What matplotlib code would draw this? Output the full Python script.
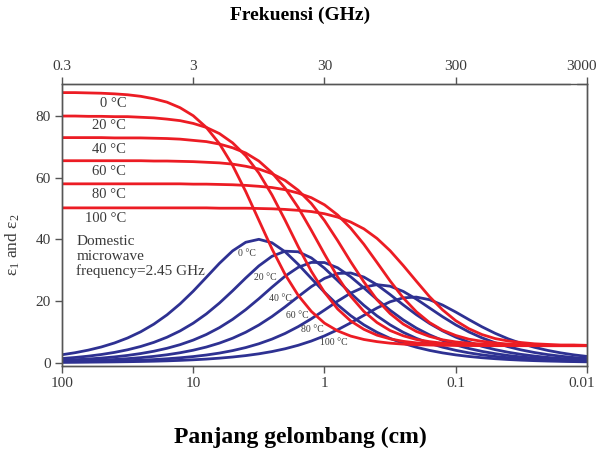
import matplotlib.pyplot as plt
from matplotlib.ticker import FixedLocator, FixedFormatter, NullLocator
from matplotlib.transforms import ScaledTranslation

# wavelength samples (cm), 10 per decade
wavelength_cm = [100, 79.43, 63.10, 50.12, 39.81, 31.62, 25.12, 19.95, 15.85, 12.59,
                 10, 7.943, 6.310, 5.012, 3.981, 3.162, 2.512, 1.995, 1.585, 1.259,
                 1, 0.7943, 0.6310, 0.5012, 0.3981, 0.3162, 0.2512, 0.1995, 0.1585, 0.1259,
                 0.1, 0.07943, 0.06310, 0.05012, 0.03981, 0.03162, 0.02512, 0.01995, 0.01585, 0.01259,
                 0.01]

temps = ['0 °C', '20 °C', '40 °C', '60 °C', '80 °C', '100 °C']

# real part eps1 (red)
eps1 = [
    [87.6, 87.6, 87.5, 87.4, 87.2, 86.9, 86.4, 85.6, 84.5, 82.7, 80.1,
     76.3, 71.0, 64.0, 55.5, 46.2, 36.9, 28.6, 21.8, 16.6, 12.8,
     10.3, 8.6, 7.5, 6.8, 6.3, 6.0, 5.8, 5.7, 5.6, 5.6,
     5.6, 5.5, 5.5, 5.5, 5.5, 5.5, 5.5, 5.5, 5.5, 5.5],
    [80.0, 80.0, 79.9, 79.9, 79.8, 79.8, 79.6, 79.4, 79.0, 78.5, 77.6,
     76.3, 74.3, 71.3, 67.1, 61.5, 54.4, 46.2, 37.6, 29.6, 22.8,
     17.4, 13.5, 10.8, 8.9, 7.7, 6.9, 6.4, 6.1, 5.9, 5.7,
     5.6, 5.6, 5.6, 5.5, 5.5, 5.5, 5.5, 5.5, 5.5, 5.5],
    [73.0, 73.0, 73.0, 73.0, 72.9, 72.9, 72.9, 72.8, 72.7, 72.5, 72.1,
     71.7, 70.9, 69.7, 68.0, 65.4, 61.6, 56.6, 50.3, 42.9, 35.2,
     27.8, 21.5, 16.6, 13.0, 10.4, 8.7, 7.5, 6.8, 6.3, 6.0,
     5.8, 5.7, 5.6, 5.6, 5.6, 5.5, 5.5, 5.5, 5.5, 5.5],
    [65.5, 65.5, 65.5, 65.5, 65.5, 65.5, 65.5, 65.4, 65.4, 65.3, 65.2,
     65.0, 64.8, 64.4, 63.7, 62.8, 61.3, 59.1, 55.9, 51.6, 46.1,
     39.6, 32.7, 26.2, 20.4, 15.9, 12.5, 10.1, 8.5, 7.4, 6.7,
     6.3, 6.0, 5.8, 5.7, 5.6, 5.6, 5.5, 5.5, 5.5, 5.5],
    [58.0, 58.0, 58.0, 58.0, 58.0, 58.0, 58.0, 58.0, 58.0, 58.0, 57.9,
     57.9, 57.8, 57.7, 57.5, 57.2, 56.8, 56.1, 55.0, 53.5, 51.2,
     47.9, 43.6, 38.4, 32.5, 26.5, 21.0, 16.5, 13.0, 10.5, 8.8,
     7.6, 6.9, 6.4, 6.0, 5.8, 5.7, 5.6, 5.6, 5.6, 5.5],
    [50.2, 50.2, 50.2, 50.2, 50.2, 50.2, 50.2, 50.2, 50.2, 50.2, 50.2,
     50.2, 50.1, 50.1, 50.1, 50.0, 49.9, 49.7, 49.4, 49.0, 48.3,
     47.2, 45.6, 43.4, 40.3, 36.3, 31.5, 26.4, 21.4, 17.1, 13.6,
     11.0, 9.1, 7.8, 7.0, 6.5, 6.1, 5.9, 5.7, 5.7, 5.6],
]

# imaginary part eps2 (blue)
eps2 = [
    [2.55, 3.21, 4.04, 5.07, 6.37, 7.99, 10.00, 12.48, 15.48, 19.06, 23.17,
     27.68, 32.22, 36.25, 39.04, 40.00, 38.88, 35.96, 31.87, 27.31, 22.83,
     18.75, 15.22, 12.26, 9.83, 7.85, 6.26, 4.98, 3.96, 3.15, 2.50,
     1.99, 1.58, 1.26, 1.00, 0.79, 0.63, 0.50, 0.40, 0.32, 0.25],
    [1.32, 1.66, 2.09, 2.63, 3.31, 4.16, 5.23, 6.57, 8.23, 10.28, 12.79,
     15.80, 19.33, 23.29, 27.45, 31.38, 34.49, 36.15, 35.96, 33.97, 30.64,
     26.62, 22.47, 18.59, 15.16, 12.25, 9.83, 7.87, 6.28, 5.00, 3.98,
     3.16, 2.51, 2.00, 1.59, 1.26, 1.00, 0.80, 0.63, 0.50, 0.40],
    [0.74, 0.93, 1.17, 1.47, 1.85, 2.33, 2.94, 3.69, 4.64, 5.82, 7.30,
     9.12, 11.35, 14.03, 17.18, 20.72, 24.47, 28.04, 30.91, 32.51, 32.46,
     30.77, 27.84, 24.24, 20.50, 16.98, 13.86, 11.20, 9.00, 7.20, 5.74,
     4.58, 3.64, 2.90, 2.30, 1.83, 1.45, 1.15, 0.92, 0.73, 0.58],
    [0.40, 0.51, 0.64, 0.81, 1.01, 1.28, 1.61, 2.02, 2.54, 3.20, 4.02,
     5.05, 6.33, 7.91, 9.85, 12.19, 14.95, 18.08, 21.41, 24.65, 27.32,
     28.92, 29.08, 27.75, 25.25, 22.08, 18.73, 15.55, 12.71, 10.29, 8.27,
     6.62, 5.28, 4.21, 3.35, 2.66, 2.12, 1.68, 1.34, 1.06, 0.84],
    [0.20, 0.25, 0.31, 0.39, 0.49, 0.62, 0.78, 0.98, 1.24, 1.56, 1.96,
     2.46, 3.09, 3.89, 4.88, 6.11, 7.62, 9.46, 11.67, 14.22, 17.04,
     19.93, 22.56, 24.48, 25.29, 24.79, 23.10, 20.60, 17.74, 14.88, 12.25,
     9.96, 8.03, 6.44, 5.15, 4.10, 3.27, 2.60, 2.07, 1.64, 1.31],
    [0.09, 0.11, 0.14, 0.18, 0.23, 0.29, 0.36, 0.45, 0.57, 0.72, 0.91,
     1.14, 1.44, 1.81, 2.27, 2.85, 3.58, 4.49, 5.62, 7.00, 8.67,
     10.65, 12.90, 15.33, 17.71, 19.73, 21.01, 21.26, 20.41, 18.67, 16.40,
     13.96, 11.61, 9.51, 7.70, 6.19, 4.96, 3.96, 3.16, 2.51, 2.00],
]

wl_ticks = [100, 10, 1, 0.1, 0.01]
wl_labels = ['100', '10', '1', '0.1', '0.01']
freq_ticks = [0.3, 3, 30, 300, 3000]
freq_labels = ['0.3', '3', '30', '300', '3000']
y_ticks = [0, 20, 40, 60, 80]

RED = '#ec1c24'
BLUE = '#2e3192'
GREY = '#3a3a3a'

plt.rcParams['font.family'] = 'Liberation Serif'
plt.rcParams['mathtext.fontset'] = 'stix'

fig = plt.figure(figsize=(6, 4.51), dpi=100)
ax = fig.add_axes([0.1033, 0.1885, 0.875, 0.6253])

for e2 in eps2:
    ax.plot(wavelength_cm, e2, color=BLUE, lw=2.0, solid_capstyle='round')
for e1 in eps1:
    ax.plot(wavelength_cm, e1, color=RED, lw=2.0, solid_capstyle='round')

ax.set_xscale('log')
ax.set_xlim(100, 0.01)
ax.set_ylim(-1.1, 90.4)
ax.xaxis.set_major_locator(FixedLocator(wl_ticks))
ax.xaxis.set_major_formatter(FixedFormatter(wl_labels))
ax.xaxis.set_minor_locator(NullLocator())
ax.set_yticks(y_ticks)

top = ax.twiny()
top.set_xscale('log')
top.set_xlim(0.3, 3000)
top.xaxis.set_major_locator(FixedLocator(freq_ticks))
top.xaxis.set_major_formatter(FixedFormatter(freq_labels))
top.xaxis.set_minor_locator(NullLocator())

for a in (ax, top):
    for s in a.spines.values():
        s.set_color('#555555')
        s.set_linewidth(1.0)
    a.tick_params(length=5, width=1.0, color='#555555', labelsize=11,
                  labelcolor=GREY, pad=3)

# nudge the last labels at the right edge inwards a little
shift = ScaledTranslation(-4 / 72, 0, fig.dpi_scale_trans)
for lab in (top.get_xticklabels()[-1], ax.get_xticklabels()[-1]):
    lab.set_transform(lab.get_transform() + shift)

# small break in the top spine near 3000
ax.plot([0.972, 0.978], [1, 1], transform=ax.transAxes, color='white',
        lw=2.5, clip_on=False, zorder=5)

ax.set_ylabel(r'$\mathregular{\varepsilon_1}$ and $\mathregular{\varepsilon_2}$',
              fontsize=12.5, color=GREY)
ax.yaxis.set_label_coords(-0.076, 0.43)

# temperature labels on the red curves
red_label_y = [84.2, 76.9, 69.3, 61.9, 54.7, 46.6]
for t, yv in zip(temps, red_label_y):
    ax.text(32.4, yv, t, ha='right', va='center', fontsize=10.5, color=GREY)

# temperature labels on the blue curves
blue_label_x = [3.89, 2.82, 2.17, 1.61, 1.24, 0.853]
blue_label_y = [35.3, 27.7, 20.7, 15.2, 10.6, 6.5]
for t, xv, yv in zip(temps, blue_label_x, blue_label_y):
    ax.text(xv, yv, t, ha='center', va='center', fontsize=7, color=GREY)

ax.text(78, 41.3, 'Domestic\nmicrowave\nfrequency=2.45 GHz', ha='left', va='top',
        fontsize=11, color=GREY, linespacing=1.12)

fig.text(0.5, 0.967, 'Frekuensi (GHz)', ha='center', va='center',
         fontsize=14, fontweight='bold', color='black')
fig.text(0.5, 0.031, 'Panjang gelombang (cm)', ha='center', va='center',
         fontsize=17, fontweight='bold', color='black')

fig.savefig('out.png', dpi=100)
